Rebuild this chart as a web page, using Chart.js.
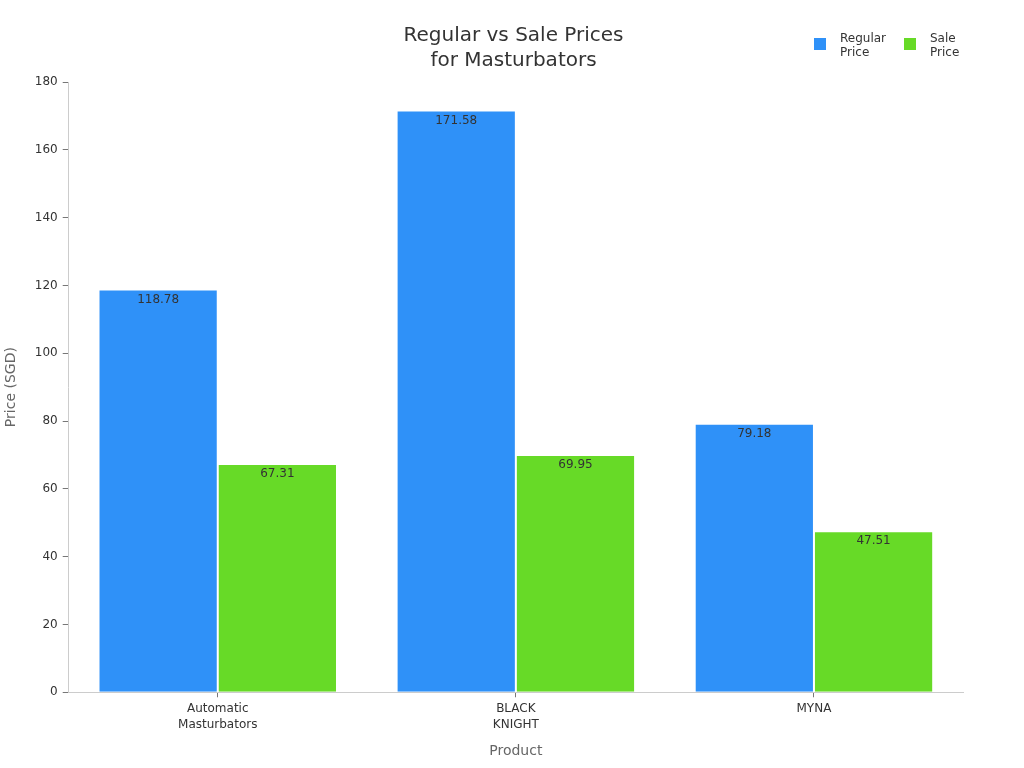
<!DOCTYPE html>
<html>
<head>
<meta charset="utf-8">
<script src="https://cdn.jsdelivr.net/npm/chart.js@4.4.1/dist/chart.umd.min.js"></script>
<style>
html,body{margin:0;padding:0;background:#fff;}
#wrap{width:1024px;height:768px;}
</style>
</head>
<body>
<div id="wrap"><canvas id="c" width="1024" height="768"></canvas></div>
<script>
const categories = [["Automatic", "Masturbators"], ["BLACK", "KNIGHT"], ["MYNA"]];
const seriesNames = [["Regular", "Price"], ["Sale", "Price"]];
const regularPrice = [118.78, 171.58, 79.18];
const salePrice = [67.31, 69.95, 47.51];
const yTicks = [0, 20, 40, 60, 80, 100, 120, 140, 160, 180];

const FONT = "'DejaVu Sans', sans-serif";
const colors = ['#2F91F8', '#67DA27'];

const barLabels = {
  id: 'barLabels',
  afterDatasetsDraw(chart) {
    const ctx = chart.ctx;
    ctx.save();
    ctx.font = '12px ' + FONT;
    ctx.fillStyle = '#333';
    ctx.textAlign = 'center';
    ctx.textBaseline = 'middle';
    chart.data.datasets.forEach((ds, i) => {
      chart.getDatasetMeta(i).data.forEach((bar, j) => {
        ctx.fillText(ds.data[j].toFixed(2), bar.x, bar.y + 10);
      });
    });
    ctx.restore();
  }
};

const customLegend = {
  id: 'customLegend',
  afterDraw(chart) {
    const ctx = chart.ctx;
    ctx.save();
    ctx.font = '12px ' + FONT;
    ctx.textBaseline = 'middle';
    ctx.textAlign = 'left';
    const xs = [814, 904];
    chart.data.datasets.forEach((ds, i) => {
      ctx.fillStyle = ds.backgroundColor;
      ctx.fillRect(xs[i], 38, 12, 12);
      ctx.fillStyle = '#333';
      seriesNames[i].forEach((t, k) => ctx.fillText(t, xs[i] + 26, 39 + k * 14));
    });
    ctx.restore();
  }
};

new Chart(document.getElementById('c'), {
  type: 'bar',
  data: {
    labels: categories,
    datasets: [
      { label: seriesNames[0].join(' '), data: regularPrice, backgroundColor: colors[0], borderColor: 'rgba(255,255,255,0.45)', borderWidth: 1 },
      { label: seriesNames[1].join(' '), data: salePrice, backgroundColor: colors[1], borderColor: 'rgba(255,255,255,0.45)', borderWidth: 1 }
    ]
  },
  options: {
    responsive: false,
    animation: false,
    devicePixelRatio: 1,
    layout: { padding: { left: 3, right: 0, top: 0, bottom: 8 } },
    datasets: { bar: { categoryPercentage: 0.8, barPercentage: 1.0 } },
    plugins: {
      legend: { display: false },
      tooltip: { enabled: false },
      title: {
        display: true,
        text: ['Regular vs Sale Prices', 'for Masturbators'],
        color: '#333',
        font: { family: FONT, size: 20, weight: 'normal', lineHeight: 1.25 },
        padding: { top: 23, bottom: 9 }
      }
    },
    scales: {
      x: {
        offset: true,
        grid: { display: true, drawOnChartArea: false, drawTicks: true, tickLength: 5, offset: false, color: '#777' },
        border: { display: true, color: '#ccc' },
        ticks: { color: '#333', font: { family: FONT, size: 12, lineHeight: 1.33 }, padding: 4, maxRotation: 0 },
        title: { display: true, text: 'Product', color: '#666', font: { family: FONT, size: 14 }, padding: { top: 6, bottom: 0 } }
      },
      y: {
        min: 0, max: 180,
        afterBuildTicks(axis) { axis.ticks = yTicks.map(v => ({ value: v })); },
        grid: { display: true, drawOnChartArea: false, drawTicks: true, tickLength: 6, color: '#777' },
        border: { display: true, color: '#ccc' },
        ticks: { color: '#333', font: { family: FONT, size: 12 }, padding: 5 },
        title: { display: true, text: 'Price (SGD)', color: '#666', font: { family: FONT, size: 14 }, padding: { top: 0, bottom: 10 } }
      },
      yRight: {
        position: 'right',
        display: true,
        grid: { display: false, drawTicks: false },
        border: { display: false },
        ticks: { display: false },
        afterFit(axis) { axis.width = 61; }
      }
    }
  },
  plugins: [barLabels, customLegend]
});
</script>
</body>
</html>
